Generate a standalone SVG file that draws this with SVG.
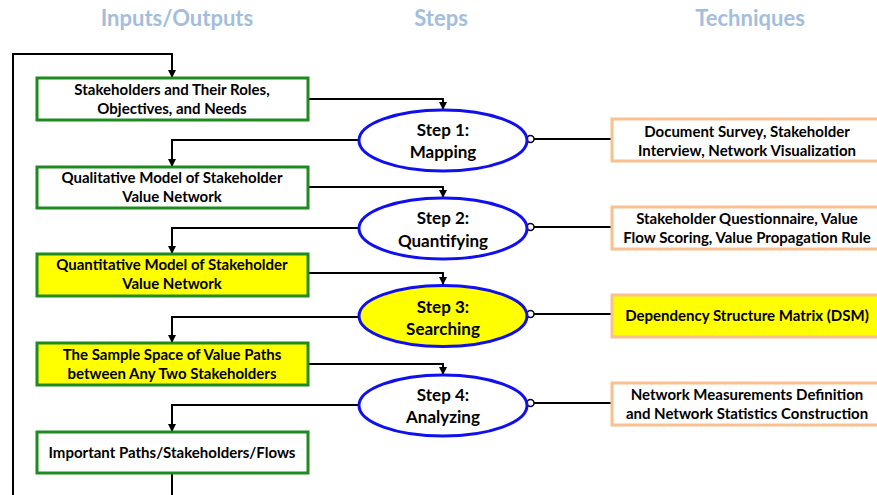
<svg xmlns="http://www.w3.org/2000/svg" width="877" height="495" viewBox="0 0 877 495">
<defs>
<marker id="arr" viewBox="0 0 8 8" refX="8" refY="4" markerWidth="8" markerHeight="8" markerUnits="userSpaceOnUse" orient="auto">
<path d="M0,0 L8,4 L0,8 z" fill="#000"/>
</marker>
</defs>
<style>
.hdr{font-family:Lato,"Liberation Sans",sans-serif;font-weight:bold;font-size:22px;fill:#A3BEDC;text-anchor:middle}
.io{fill:#fff;stroke:#1F8A1F;stroke-width:3}
.io.y{fill:#FFFF00}
.st{fill:#fff;stroke:#1010EE;stroke-width:3}
.st.y{fill:#FFFF00}
.tq{fill:#fff;stroke:#FAC090;stroke-width:3}
.tq.y{fill:#FFFF00}
.t{font-family:Lato,"Liberation Sans",sans-serif;font-weight:bold;font-size:15px;fill:#000;text-anchor:middle}
.ts{font-family:Lato,"Liberation Sans",sans-serif;font-weight:bold;font-size:17px;fill:#000;text-anchor:middle}
.c{fill:none;stroke:#000;stroke-width:2}
.ca{fill:none;stroke:#000;stroke-width:2;marker-end:url(#arr)}
.dot{fill:#fff;stroke:#000;stroke-width:1.5}
</style>
<rect width="877" height="495" fill="#fff"/>
<g id="headers">
<text class="hdr" x="177" y="26">Inputs/Outputs</text>
<text class="hdr" x="441" y="26">Steps</text>
<text class="hdr" x="750" y="26">Techniques</text>
</g>
<g id="connectors">
<path class="ca" d="M172,473 V500 H13 V54 H172 V78"/>
<path class="ca" d="M308,99 H443 V110"/>
<path class="ca" d="M359,140 H172 V167"/>
<path class="ca" d="M308,187 H443 V198"/>
<path class="ca" d="M359,228 H172 V254"/>
<path class="ca" d="M308,273 H443 V285"/>
<path class="ca" d="M359,317 H172 V343"/>
<path class="ca" d="M308,364 H443 V375"/>
<path class="ca" d="M359,405 H172 V432"/>
<path class="c" d="M534,139 H612"/>
<circle class="dot" cx="530.5" cy="139" r="3.5"/>
<path class="c" d="M534,227 H612"/>
<circle class="dot" cx="530.5" cy="227" r="3.5"/>
<path class="c" d="M534,314 H612"/>
<circle class="dot" cx="530.5" cy="314" r="3.5"/>
<path class="c" d="M534,403 H612"/>
<circle class="dot" cx="530.5" cy="403" r="3.5"/>
</g>
<g id="io1">
<rect class="io" x="37" y="78" width="271" height="42"/>
<text class="t" x="172" y="95">Stakeholders and Their Roles,</text>
<text class="t" x="172" y="114">Objectives, and Needs</text>
</g>
<g id="io2">
<rect class="io" x="37" y="167" width="271" height="41"/>
<text class="t" x="172" y="182.5">Qualitative Model of Stakeholder</text>
<text class="t" x="172" y="201.5">Value Network</text>
</g>
<g id="io3">
<rect class="io y" x="37" y="254" width="271" height="42"/>
<text class="t" x="172" y="269.5">Quantitative Model of Stakeholder</text>
<text class="t" x="172" y="288.5">Value Network</text>
</g>
<g id="io4">
<rect class="io y" x="37" y="343" width="271" height="42"/>
<text class="t" x="172" y="359.5">The Sample Space of Value Paths</text>
<text class="t" x="172" y="378.5">between Any Two Stakeholders</text>
</g>
<g id="io5">
<rect class="io" x="37" y="432" width="271" height="41"/>
<text class="t" x="172" y="457.5">Important Paths/Stakeholders/Flows</text>
</g>
<g id="step1">
<ellipse class="st" cx="443" cy="140.5" rx="84" ry="30.5"/>
<text class="ts" x="443" y="136">Step 1:</text>
<text class="ts" x="443" y="158">Mapping</text>
</g>
<g id="step2">
<ellipse class="st" cx="443" cy="228.5" rx="84" ry="30.5"/>
<text class="ts" x="443" y="224">Step 2:</text>
<text class="ts" x="443" y="247">Quantifying</text>
</g>
<g id="step3">
<ellipse class="st y" cx="443" cy="316" rx="84" ry="30.5"/>
<text class="ts" x="443" y="313">Step 3:</text>
<text class="ts" x="443" y="335">Searching</text>
</g>
<g id="step4">
<ellipse class="st" cx="443" cy="405.5" rx="84" ry="30.5"/>
<text class="ts" x="443" y="401">Step 4:</text>
<text class="ts" x="443" y="423">Analyzing</text>
</g>
<g id="tech1">
<rect class="tq" x="612" y="119" width="270" height="42"/>
<text class="t" x="747" y="136.5">Document Survey, Stakeholder</text>
<text class="t" x="747" y="155.5">Interview, Network Visualization</text>
</g>
<g id="tech2">
<rect class="tq" x="612" y="207" width="270" height="42"/>
<text class="t" x="747" y="223.5">Stakeholder Questionnaire, Value</text>
<text class="t" x="747" y="242.5">Flow Scoring, Value Propagation Rule</text>
</g>
<g id="tech3">
<rect class="tq y" x="612" y="295" width="270" height="42"/>
<text class="t" x="747" y="320.5">Dependency Structure Matrix (DSM)</text>
</g>
<g id="tech4">
<rect class="tq" x="612" y="383" width="270" height="42"/>
<text class="t" x="747" y="399.5">Network Measurements Definition</text>
<text class="t" x="747" y="418.5">and Network Statistics Construction</text>
</g>
</svg>
